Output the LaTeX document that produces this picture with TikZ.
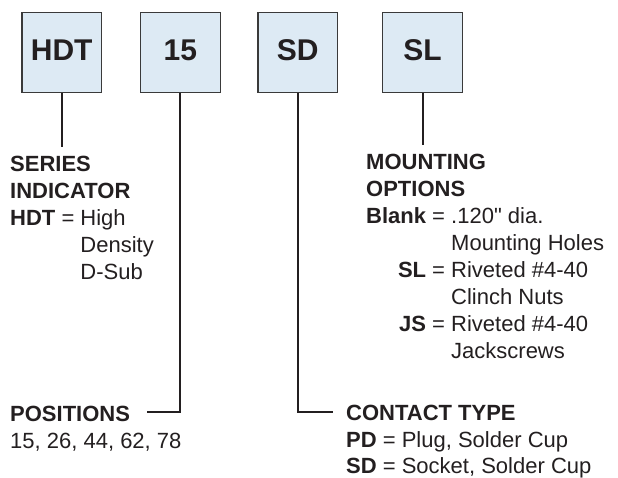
\documentclass[tikz,border=0pt]{standalone}
\usepackage{fontspec}
\setmainfont{Liberation Sans}
\newfontfamily\straightfont{Liberation Sans}[Ligatures=TeXOff]
\definecolor{boxfill}{HTML}{DDEAF4}
\definecolor{ink}{HTML}{231F20}
\definecolor{boxline}{HTML}{3A3A3A}
\tikzset{
  partbox/.style={draw=boxline, line width=1.2pt, fill=boxfill,
    minimum width=79.5pt, minimum height=79.5pt, inner sep=0pt},
  boxtext/.style={font=\fontsize{30}{36}\selectfont\bfseries, text=ink, inner sep=0pt},
  desc/.style={anchor=base west, inner sep=0pt, text=ink,
    font=\fontsize{22}{27}\selectfont},
  leader/.style={draw=ink, line width=2pt},
}
\begin{document}
\begin{tikzpicture}[x=1pt,y=-1pt]
\useasboundingbox (0,0) rectangle (618,477);
% part number boxes
\node[partbox] (hdt) at (61.7,52.5) {};
\node[partbox] (n15) at (180.4,52.5) {};
\node[partbox] (sd)  at (297.7,52.5) {};
\node[partbox] (sl)  at (422.5,52.5) {};
\node[boxtext] (thdt) at ([yshift=2pt]hdt.center) {HDT};
\node[boxtext] (t15)  at ([yshift=2pt]n15.center) {15};
\node[boxtext] (tsd)  at ([yshift=2pt]sd.center) {SD};
\node[boxtext] (tsl)  at ([yshift=2pt]sl.center) {SL};
% leader end points
\coordinate (ehdt) at (61.7,147);
\coordinate (e15)  at (147,412);
\coordinate (esd)  at (333,412);
\coordinate (esl)  at (422.5,145);
\draw[leader] (hdt.south) -- (ehdt);
\draw[leader] (n15.south) |- (e15);
\draw[leader] (sd.south) |- (esd);
\draw[leader] (sl.south) -- (esl);
% descriptions
\node[desc] (series) at (10,171) {\begin{tabular}[t]{@{}r@{\ }c@{\ }l@{}}
  \multicolumn{3}{@{}l@{}}{\textbf{SERIES}}\\
  \multicolumn{3}{@{}l@{}}{\textbf{INDICATOR}}\\
  \textbf{HDT} & = & High\\
   & & Density\\
   & & D-Sub
\end{tabular}};
\node[desc] (mount) at (366,169.5) {\begin{tabular}[t]{@{}r@{\ }c@{\ }l@{}}
  \multicolumn{3}{@{}l@{}}{\textbf{MOUNTING}}\\
  \multicolumn{3}{@{}l@{}}{\textbf{OPTIONS}}\\
  \textbf{Blank} & = & .120{\straightfont"} dia.\\
   & & Mounting Holes\\
  \textbf{SL} & = & Riveted \#4-40\\
   & & Clinch Nuts\\
  \textbf{JS} & = & Riveted \#4-40\\
   & & Jackscrews
\end{tabular}};
\node[desc] (pos) at (10,421) {\begin{tabular}[t]{@{}l@{}}
  \textbf{POSITIONS}\\
  15, 26, 44, 62, 78
\end{tabular}};
\node[desc] (contact) at (346,420.5) {\begin{tabular}[t]{@{}l@{}}
  \textbf{CONTACT TYPE}\\
  \textbf{PD} = Plug, Solder Cup\\[-1.5pt]
  \textbf{SD} = Socket, Solder Cup
\end{tabular}};
\end{tikzpicture}
\end{document}
